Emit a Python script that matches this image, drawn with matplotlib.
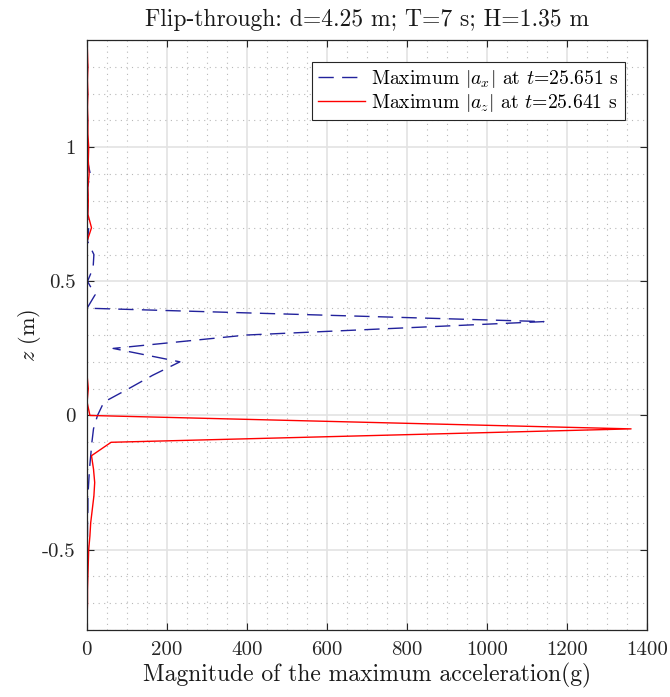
import matplotlib
matplotlib.use("Agg")
import matplotlib.pyplot as plt
from matplotlib.ticker import MultipleLocator, FuncFormatter

plt.rcParams['font.family'] = 'serif'
plt.rcParams['font.serif'] = ['cmr10']
plt.rcParams['mathtext.fontset'] = 'cm'
plt.rcParams['axes.unicode_minus'] = False

# Elevation (m)
z = [1.40, 1.35, 1.30, 1.25, 1.20, 1.15, 1.10, 1.05, 1.00, 0.95,
     0.90, 0.85, 0.80, 0.75, 0.70, 0.65, 0.60, 0.55, 0.50, 0.45,
     0.40, 0.35, 0.30, 0.25, 0.20, 0.15, 0.10, 0.05, 0.00, -0.05,
     -0.10, -0.15, -0.20, -0.25, -0.30, -0.35, -0.40, -0.45, -0.50, -0.55,
     -0.60, -0.65, -0.70, -0.75, -0.80]

# Maximum |a_x| (g) at t=25.651 s
ax_max = [1, 1, 2, 1, 2, 1, 2, 1, 3, 2,
          9, 2, 3, 2, 5, 2, 18, 16, 2, 21,
          1, 1143, 400, 66, 233, 165, 105, 43, 27, 17,
          13, 10, 7, 5, 3, 3, 2, 2, 2, 1,
          1, 1, 1, 1, 1]

# Maximum |a_z| (g) at t=25.641 s
az_max = [1, 2, 3, 2, 3, 2, 3, 3, 5, 4,
          6, 3, 4, 3, 12, 1, 1, 1, 1, 1,
          1, 1, 1, 1, 1, 1, 4, 1, 8, 1361,
          61, 12, 17, 20, 18, 14, 10, 8, 5, 4,
          3, 2, 2, 1, 1]

label_x = r'Maximum $|a_x|$ at $t$=25.651 s'
label_z = r'Maximum $|a_z|$ at $t$=25.641 s'
title = 'Flip-through: d=4.25 m; T=7 s; H=1.35 m'
xlabel = 'Magnitude of the maximum acceleration(g)'
ylabel = r'$z$ (m)'

fig = plt.figure(figsize=(6.70, 6.97), dpi=100)
ax = fig.add_axes([0.1294, 0.0961, 0.8358, 0.8465])

ax.plot(ax_max, z, color='#22229c', lw=1.0, dashes=(11, 6), label=label_x)
ax.plot(az_max, z, color='#ff0000', lw=1.0, label=label_z)

ax.set_xlim(0, 1400)
ax.set_ylim(-0.8, 1.4)
ax.xaxis.set_major_locator(MultipleLocator(200))
ax.xaxis.set_minor_locator(MultipleLocator(50))
ax.yaxis.set_major_locator(MultipleLocator(0.5))
ax.yaxis.set_minor_locator(MultipleLocator(0.1))
ax.yaxis.set_major_formatter(FuncFormatter(lambda v, p: '%g' % v))
ax.xaxis.set_major_formatter(FuncFormatter(lambda v, p: '%g' % v))

ax.grid(which='major', color='#e3e3e3', lw=1.2, ls='-')
ax.grid(which='minor', color='#b8b8b8', lw=0.8, ls=(0, (1, 4)))
ax.set_axisbelow(True)

ax.tick_params(which='major', direction='in', length=5, width=0.8,
               top=True, right=True, labelsize=15, colors='#262626', pad=8)
ax.tick_params(which='minor', length=0, top=True, right=True)
for s in ax.spines.values():
    s.set_color('#262626')
    s.set_linewidth(0.9)

ax.set_title(title, fontsize=17, color='#1a1a1a', pad=10)
ax.set_xlabel(xlabel, fontsize=17, color='#1a1a1a', labelpad=3)
ax.set_ylabel(ylabel, fontsize=16, color='#1a1a1a', labelpad=-1)

leg = ax.legend(loc='upper right', fontsize=14.2, fancybox=False, framealpha=1,
                edgecolor='#262626', borderaxespad=1.1, handlelength=2.4,
                borderpad=0.3, labelspacing=0.1, handletextpad=0.3)
leg.get_frame().set_linewidth(0.8)

fig.savefig('out.png', dpi=100)
